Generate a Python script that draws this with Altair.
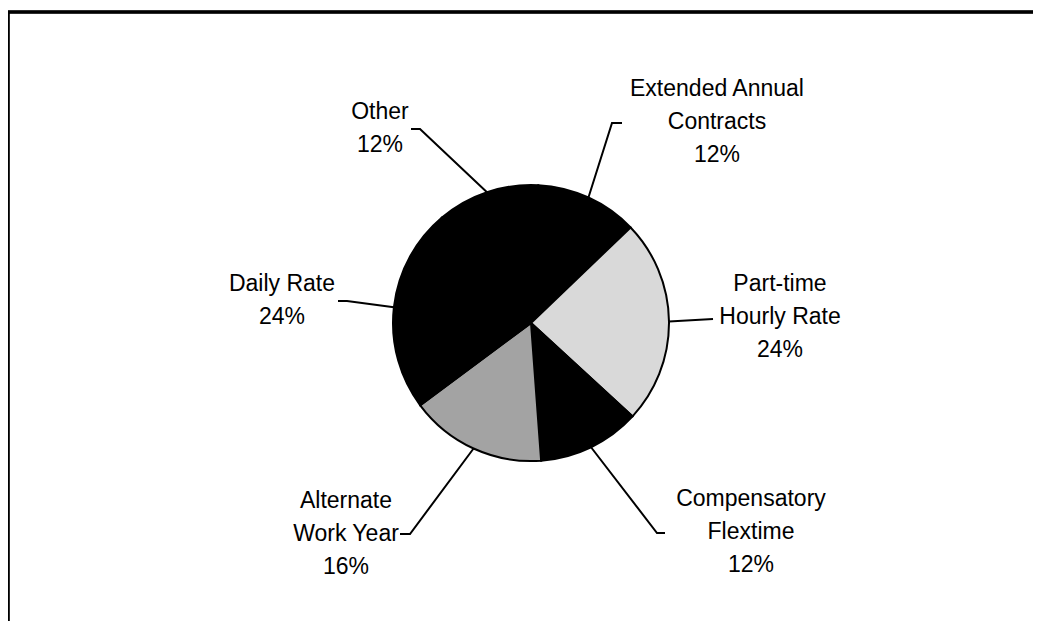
import math
import altair as alt
import pandas as pd

# ---- data ----
categories = ["Extended Annual Contracts", "Part-time Hourly Rate", "Compensatory Flextime",
              "Alternate Work Year", "Daily Rate", "Other"]
values = [12, 24, 12, 16, 24, 12]
label_lines = [["Extended Annual", "Contracts"], ["Part-time", "Hourly Rate"],
               ["Compensatory", "Flextime"], ["Alternate", "Work Year"],
               ["Daily Rate"], ["Other"]]
fills = ["#000000", "#d9d9d9", "#000000", "#a3a3a3", "#000000", "#000000"]

# ---- layout (page pixel coordinates; styling only) ----
W, H = 1025, 613
CX, CY, R = 531, 323, 138
START_DEG = 3.0
LINE_H = 33
label_center = [(717, 122), (780, 317), (751, 532), (346, 534), (282, 300), (380, 128)]
leader_elbow = [(612, 123), (713, 319), (657, 533), (410, 534), (347, 301), (420, 129)]
leader_end = [(622, 123), (713, 319), (665, 533), (400, 534), (338, 301), (411, 129)]

total = sum(values)
pct = [f"{round(v / total * 100)}%" for v in values]
texts = [ll + [p] for ll, p in zip(label_lines, pct)]

pie_df = pd.DataFrame({"cat": categories, "value": values, "idx": list(range(len(values)))})

lab_df = pd.DataFrame({
    "cat": categories,
    "text": ["\n".join(t) for t in texts],
    "lx": [p[0] for p in label_center],
    # first line's y so that the whole block is centred on the label centre
    "ly": [p[1] - (len(t) - 1) * LINE_H / 2 for p, t in zip(label_center, texts)],
})

# leader lines: start on the pie edge at each slice's mid angle
rows = []
cum = 0.0
for i, (c, v) in enumerate(zip(categories, values)):
    mid = math.radians(START_DEG) + 2 * math.pi * (cum + v / 2) / total
    cum += v
    bx = CX + R * math.sin(mid)
    by = CY - R * math.cos(mid)
    rows.append({"cat": c, "pt": 0, "px": bx, "py": by})
    rows.append({"cat": c, "pt": 1, "px": leader_elbow[i][0], "py": leader_elbow[i][1]})
    rows.append({"cat": c, "pt": 2, "px": leader_end[i][0], "py": leader_end[i][1]})
lead_df = pd.DataFrame(rows)

xs = alt.Scale(domain=[8, 8 + W], nice=False, zero=False)
ys = alt.Scale(domain=[8 + H, 8], nice=False, zero=False)

a0 = math.radians(START_DEG)
pie = alt.Chart(pie_df).mark_arc(outerRadius=R, stroke="black", strokeWidth=2).encode(
    theta=alt.Theta("value:Q", stack=True, scale=alt.Scale(range=[a0, a0 + 2 * math.pi])),
    order=alt.Order("idx:Q"),
    color=alt.Color("cat:N", scale=alt.Scale(domain=categories, range=fills), legend=None),
    x=alt.value(CX - 8),
    y=alt.value(CY - 8),
)

leaders = alt.Chart(lead_df).mark_line(color="black", strokeWidth=2).encode(
    x=alt.X("px:Q", scale=xs, axis=None),
    y=alt.Y("py:Q", scale=ys, axis=None),
    detail="cat:N",
    order="pt:Q",
)

labels = alt.Chart(lab_df).mark_text(
    font="Liberation Sans", fontSize=23, color="black", align="center",
    baseline="middle", lineBreak="\n", lineHeight=LINE_H,
).encode(
    x=alt.X("lx:Q", scale=xs, axis=None),
    y=alt.Y("ly:Q", scale=ys, axis=None),
    text="text:N",
)

top_border = alt.Chart(pie_df).mark_rule(color="black", strokeWidth=2.5).encode(
    x=alt.value(0), x2=alt.value(W), y=alt.value(4)
)
left_border = alt.Chart(pie_df).mark_rule(color="black", strokeWidth=2.5).encode(
    x=alt.value(0), y=alt.value(4), y2=alt.value(H)
)

chart = alt.layer(top_border, left_border, pie, leaders, labels).properties(
    width=W, height=H, padding=0, autosize=alt.AutoSizeParams(type="none"),
    background="white",
).configure_view(stroke=None)

chart.save("out.html", embed_options={"renderer": "svg", "actions": False})
